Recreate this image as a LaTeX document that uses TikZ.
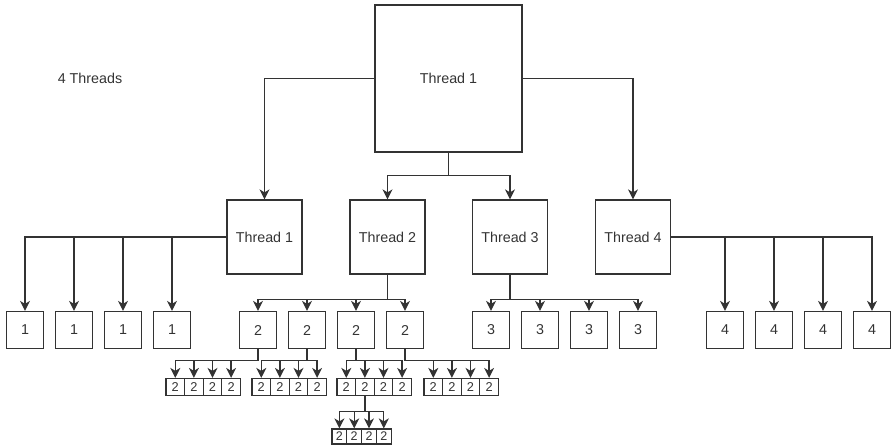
\documentclass[tikz,border=0pt]{standalone}
\usepackage{fontspec}
\setmainfont{Liberation Sans}
\usetikzlibrary{arrows.meta}
\definecolor{ink}{HTML}{333333}

\begin{document}
\begin{tikzpicture}[x=1pt, y=-1pt,
		wire/.style={draw=ink, line width=1.25pt},
		arr/.style={wire, -{Stealth[length=10pt, width=10pt, inset=3pt]}},
		thread/.style={wire, text=ink, inner sep=0pt, minimum width=75pt, minimum height=74pt, font=\fontsize{14.3}{17}\selectfont},
		leaf/.style={thread, minimum width=37pt, minimum height=37pt},
		cell/.style={thread, minimum width=18.6pt, minimum height=17pt, font=\fontsize{12.8}{14}\selectfont},
		tinycell/.style={cell, minimum width=14.8pt, minimum height=15pt, font=\fontsize{12.5}{14}\selectfont}]
	\useasboundingbox (0,0) rectangle (893,445);
	% top level
	\node [text=ink, font=\fontsize{14.3}{17}\selectfont] (count) at (90,78) {4 Threads};
	\node [thread, minimum width=147pt, minimum height=147pt] (main) at (448.5,78.5) {Thread 1};
	\foreach \n/\x in {1/264.5, 2/387.5, 3/510, 4/633}
		\node [thread] (t\n) at (\x,237) {Thread \n};
	% one row of leaves per thread
	\foreach \g/\x in {1/25, 2/258, 3/491, 4/725}
		\foreach \i in {1,...,4}
			\node [leaf] (l\g-\i) at ({\x+49*(\i-1)},330) {\g};
	% the second thread splits again
	\foreach \k/\x in {1/175.3, 2/261.3, 3/346.3, 4/433.3}
		\foreach \i in {1,...,4}
			\node [cell] (c\k-\i) at ({\x+18.6*(\i-1)},387) {2};
	\foreach \i in {1,...,4}
		\node [tinycell] (e\i) at ({339.4+14.8*(\i-1)},436.5) {2};

	% connectors
	\draw [arr] (main.west) -| (t1.north);
	\draw [arr] (main.east) -| (t4.north);
	\foreach \n in {2,3}
		\draw [arr] (main.south) -- ++(0,23) -| (t\n.north);
	\foreach \i in {1,...,4} {
		\draw [arr] (t1.west) -| (l1-\i.north);
		\draw [arr] (t4.east) -| (l4-\i.north);
		\draw [arr] (t2.south) -- ++(0,24.5) -| (l2-\i.north);
		\draw [arr] (t3.south) -- ++(0,24.5) -| (l3-\i.north);
		\draw [arr] (c3-2.south) -- ++(0,15) -| (e\i.north);
	}
	\foreach \k in {1,...,4}
		\foreach \i in {1,...,4}
			\draw [arr] (l2-\k.south) -- ++(0,11.5) -| (c\k-\i.north);
\end{tikzpicture}
\end{document}
